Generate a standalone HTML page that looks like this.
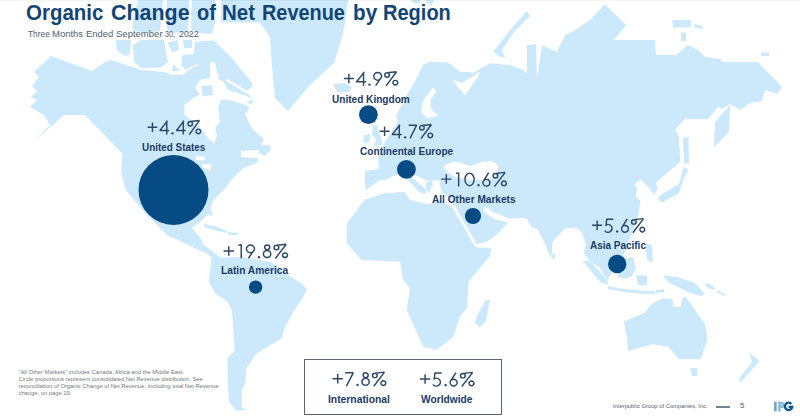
<!DOCTYPE html>
<html><head><meta charset="utf-8">
<style>
html,body{margin:0;padding:0;background:#fff;}
body{width:800px;height:420px;position:relative;overflow:hidden;font-family:"Liberation Sans",sans-serif;}
svg.map{position:absolute;left:0;top:0;}
.t{position:absolute;white-space:nowrap;line-height:1;transform-origin:0 0;}
.title{font-size:21.6px;font-weight:bold;color:#124474;}
.sub{font-size:9.2px;color:#505e6d;}
.pct{font-size:20.8px;color:#33506f;}
.lbl{font-size:10px;font-weight:bold;color:#1c3b63;}
.foot{left:18.5px;top:368.6px;font-size:5.8px;color:#74777c;line-height:7.1px;}
.box{position:absolute;left:304px;top:359px;width:196px;height:54px;border:1.2px solid #5b6570;}
</style></head><body>
<svg class="map" width="800" height="420" viewBox="0 0 800 420">
<g fill="#cce9fb">
<!-- North America mainland -->
<polygon points="34,72 51,56 92,71 105,62 111,60 134,67.5 141,70 167.5,72.5 170,75 182.5,75 193,67 205,63 214,66 222,68 234,76 247,92 253,101 245,115 253,130 264,139 258,150 241,151 241,157 258,158 258,162 243,168.6 232,179 225.7,187.8 212.8,200.7 210.7,209 213.3,216.7 208,214 200,222 192,228 200,237.6 203.8,245 209.5,249 219,256.7 226.7,260.5 219,262.4 205.7,252.9 192.4,247 177,239.5 167.6,235.7 146.7,214.8 125.7,190 121,172 122.5,154 85,115 64,115 34,141 50,125 44,115 30,107 37,100 31,97 37,91 32,86 39,77"/>
<!-- Arctic archipelago -->
<polygon points="116,40 131,40 130,54 124,56 117,50"/>
<polygon points="133,45 141,40 164,40 166,52 168,62 161,67.5 141,68 134,62"/>
<polygon points="167.5,42.5 177.5,40 179,50 172.5,52.5"/>
<polygon points="173,64 180,71 172,71"/>
<polygon points="182.5,55 195,54 205,58 205,62 192,66 186,70 181,65"/>
<polygon points="183,40 192,40 192,48 184,48"/>
<polygon points="195,41.7 214,40.5 231,57 252,83 253,86 247,91 241,88 228,78.6 215,71 211,65 199.5,65 190,59.5 194,52"/>
<polygon points="138,0 163,0 160,31 145,33 133,30 133,20"/>
<polygon points="167,0 189,0 188,31 175,33 167,30"/>
<polygon points="192,0 215,0 215,22 212,34 200,33 191,30"/>
<polygon points="221,0 262,0 260,22.6 221,22.6"/>
<!-- Greenland -->
<polygon points="257,0 348,0 346,17 343,34 334,63 309,86 288,111 275,98 272,66 270,37 260,23"/>
<!-- Newfoundland -->
<polygon points="258,145 270,145 270.7,150 265,155.7 259,153"/>
<!-- Iceland -->
<polygon points="333,84 345,83 352,87 349,92 337,92"/>
<!-- South America -->
<polygon points="211,258 242,257 271,262 290,276.4 300.6,282.8 307,289.3 302.8,297.8 298.5,304 294,310.7 285.7,325.7 281.4,338.6 270.7,345 256,354 246.4,368.8 245,384 241.7,390 241.7,407 246.4,410 235.7,410.5 228.6,401 227.4,358 234.5,351 234.3,345 232,310.7 227.8,302 215,293.6 208.6,280.7 210.7,267.9"/>
<!-- Caribbean -->
<polygon points="204,224 215,226 227,231 226,233 214,230 204,227"/>
<polygon points="228,232 238,233 238,235 228,235"/>
<!-- Eurasia -->
<polygon points="396,116 408,93 415.5,80 423,64.5 431,61.7 448,62.6 455.5,68.3 461,72 469,72 473,73 478,70 490,63.3 510,65 523,70 527,73 527,45 536,44 537,80 542,45 557,52 565,35 575,30 590,20 605,4 626,25 614,40 655,40 656,55 676,55 688,45 698,50 705,57 721,59 722,62 758,62 782,87 778,94 765,90 762,101 750,103 740,110 730,104 722,109 718,107 708,119 685,119 675,130 679,137 679.5,150 680.5,161 676,165.5 656,182.5 657.5,188.7 654.4,195 649.8,188.7 640.5,179.4 634.3,184 637.4,188.7 635.8,196.4 640.5,201 639,212 636,224 630,238 625.4,250.7 620,262 607,280 600,268 589.5,261 583.8,253.3 585.7,243.8 582,232.4 576,227.6 564.8,228.6 552.4,242 551.4,259 544.3,242 537,229 531.4,226.4 527,219.3 524.3,218 508.6,218.6 507,224 498.6,233 487,241.4 475.7,244.3 458,212 455,206 450,198 441,192 439,180 432,181 425,180 415,175 395,175 385,180 380,180 366,190 365,185 365,171 379,169 378,158 385,142 398,122"/>
<!-- Italy / Greece -->
<polygon points="404,176 410,176 427,190 425,194 419,192"/>
<polygon points="426,182 432,181 434,190 429,193 426,188"/>
<!-- Africa -->
<polygon points="365,199.5 385,193 405,192 410,200 427,204 441,201 455,208 475.7,247 491.4,248.6 490,255.7 468.6,281.4 467,308 460,316.7 453.3,336.7 436.7,350 423.3,346.7 406.7,310 410,288.3 403.3,280 400,261.7 361.7,260 346.7,243.3 347,223"/>
<!-- Madagascar -->
<polygon points="485.7,300 490,300 485.7,321.4 480,327 474.3,322.9 477,315.7"/>
<!-- UK / Ireland -->
<polygon points="372,125 377,124.5 378,131 381,137 382.5,145 374,146.5 376,140 372,134 373,130"/>
<polygon points="364,135 370,134 369.5,142 363.5,143"/>
<!-- Sri Lanka -->
<polygon points="552.4,253.3 555,253.3 555,259 552.4,259"/>
<!-- Indonesia / Philippines -->
<polygon points="582.6,260.7 590,261 607.4,280 608,285 600,282"/>
<polygon points="608,286 625,289 645,291 645,294 625,292 608,289"/>
<polygon points="646,291 655,291 655,294 646,294"/>
<polygon points="656,290 664,289 664,292 656,293"/>
<polygon points="619,259 633,257 636,268 632,276 625,279 618,277"/>
<polygon points="636,275 647,276 647,285 638,285"/>
<polygon points="645.5,243.6 652,245 653,262.6 647,260"/>
<polygon points="663,275 677,277 695,283 705,294 701,296 690,293 676,286 668,282"/>
<polygon points="705,283 712,285 716,290 707,288"/>
<polygon points="718,290 726,295 724,296 717,292"/>
<!-- Japan / Sakhalin / Kamchatka -->
<polygon points="730,105 729,132 714,147 715,122"/>
<polygon points="683,138 688.5,137 689,163 684,164"/>
<polygon points="683.8,167 688.5,170 683.8,178 679,193.3 662,202.6 657.5,199.5 660.6,195 679,184"/>
<!-- Australia -->
<polygon points="623.75,321.7 645,312.6 652,303.6 663.3,298 672.4,299 673.5,307 680,307 682.6,298 686,296.8 695,310 705,324 707.5,339.8 700.7,359 679,359 668,346.6 652,344.3 628,351 627,337.5"/>
<polygon points="690.5,368 697.3,368 697.3,376 692,376"/>
<polygon points="749,352 759.5,361 740.3,382.8 739,379 752,362"/>
<!-- Russia islands -->
<polygon points="672.5,20 691,20 691,27.5 673,27.5"/>
<polygon points="694,24 702.5,26 702.5,29 695,28"/>
<polygon points="681,32.5 686,32.5 686,41 681,41"/>
<polygon points="761,52.5 769,52.5 769,56 761,56"/>
<!-- Svalbard -->
<polygon points="411,0 421,0 418,4 414,3"/>
<polygon points="425,0 434,0 432,5 428,4"/>
<!-- Novaya Zemlya -->
<polygon points="493.3,51.7 511.7,28 527,11 530,16 514,32 502,50 505,58 500,57"/>
</g>
<g fill="#fff">
<!-- Hudson Bay -->
<polygon points="184.5,105 193,98 200,94.5 212,95 221,100 218,108 220,122 215.5,127 216.7,136 214.3,143.3 208,138.6 203.6,131.4 196.4,124.3 184.5,114.8"/>
<!-- Foxe basin -->
<polygon points="210,62 215,62 218,78 224,82 228,90 247,96 252,100 247,102 230,99 220,100 212,96 201,96 195,88 200,80 210,78"/>
<polyline points="216,74 232,83 248,93" stroke="#fff" stroke-width="2.5" fill="none"/>
<!-- Great Lakes -->
<polygon points="195.7,156 205.4,157 204,160.4 196,160"/>
<polygon points="202,163.6 211.8,165 210,170 203,168"/>
<!-- Baltic -->
<polygon points="432.6,87.4 436.4,91.2 430.7,98.8 430.7,108.3 438,116 427,118 421,112 423,100.7 428.8,93"/>
<!-- White Sea -->
<polygon points="453,80 462,83 480,71.7 478,77 465,95 457,86"/>
<!-- Black Sea -->
<polygon points="443,166 454,161.5 461,163 470,166 482,162 492,161 498,165 497,174 490,180 470,180 455,177 447,172"/>
<polygon points="431,186 440,186 443,196 436,200 430,195"/>
<!-- Persian gulf -->
<polygon points="485.7,206.4 492.9,212 504.3,216.4 508.6,218.6 506,222.5 504.3,221.4 494.3,219.3 482.9,210.7"/>
</g>
<g stroke="#fff" fill="none" stroke-width="2.5">
<polyline points="452,204 476,245.5"/>
<polyline points="476,246 500,240" stroke-width="2"/>
<polyline points="214,97 228,98 242,102 256,108" stroke-width="3"/>
</g>
<g fill="#cce9fb">
<polygon points="201,86 212,85 213,95 203,96"/>
<polygon points="219,73 226,74 226,80.5 219,80"/>
</g>
<g fill="#064b83">
<circle cx="173.5" cy="190" r="35"/>
<circle cx="368.4" cy="114.6" r="9.4"/>
<circle cx="406.4" cy="169.3" r="9.4"/>
<circle cx="473" cy="216" r="8.1"/>
<circle cx="255.6" cy="287.1" r="6.7"/>
<circle cx="617.2" cy="264" r="9.2"/>
</g>
</svg>


<div class="t title" style="left:26.38px;top:1.66px;transform:scaleX(0.948)">Organic</div>
<div class="t title" style="left:110.64px;top:1.66px;transform:scaleX(0.993)">Change</div>
<div class="t title" style="left:196.70px;top:1.66px;transform:scaleX(0.926)">of</div>
<div class="t title" style="left:222.27px;top:1.66px;transform:scaleX(0.947)">Net</div>
<div class="t title" style="left:261.81px;top:1.66px;transform:scaleX(0.921)">Revenue</div>
<div class="t title" style="left:352.75px;top:1.66px;transform:scaleX(0.958)">by</div>
<div class="t title" style="left:382.85px;top:1.66px;transform:scaleX(0.927)">Region</div>
<div class="t sub" style="left:27.93px;top:29.93px;transform:scaleX(0.908)">Three</div>
<div class="t sub" style="left:52.34px;top:29.93px;transform:scaleX(1.032)">Months</div>
<div class="t sub" style="left:85.85px;top:29.93px;transform:scaleX(1.024)">Ended</div>
<div class="t sub" style="left:115.77px;top:29.93px;transform:scaleX(1.036)">September</div>
<div class="t sub" style="left:165.01px;top:29.93px;transform:scaleX(0.785)">30,</div>
<div class="t sub" style="left:178.96px;top:29.93px;transform:scaleX(0.959)">2022</div>







<div class="t lbl" style="left:142.31px;top:143.13px;transform:scaleX(0.990)">United States</div>
<div class="t lbl" style="left:331.65px;top:94.53px;transform:scaleX(1.007)">United Kingdom</div>
<div class="t lbl" style="left:359.60px;top:147.23px;transform:scaleX(1.011)">Continental Europe</div>
<div class="t lbl" style="left:431.70px;top:195.03px;transform:scaleX(1.009)">All Other Markets</div>
<div class="t lbl" style="left:221.38px;top:266.33px;transform:scaleX(1.022)">Latin America</div>
<div class="t lbl" style="left:590.40px;top:241.08px;transform:scaleX(0.996)">Asia Pacific</div>
<div class="t lbl" style="left:328.28px;top:394.58px;transform:scaleX(1.032)">International</div>
<div class="t lbl" style="left:421.00px;top:394.58px;transform:scaleX(1.020)">Worldwide</div>
<svg class="pcts" style="position:absolute;left:0;top:0" width="800" height="420" viewBox="0 0 800 420">
<g transform="translate(147.60,120.45) scale(0.9626,0.9722)"><g fill="none" stroke="#2c4767" stroke-width="1.45" vector-effect="non-scaling-stroke"><path transform="translate(0.00,0)" d="M0,6.9 H10.1 M5.05,2.0 V11.8" vector-effect="non-scaling-stroke"/><path transform="translate(12.30,0)" d="M8.3,0.4 L0.5,10.4 M0,10.4 H10.0 M7.6,0 V14.4" vector-effect="non-scaling-stroke"/><path transform="translate(29.50,0)" d="M8.3,0.4 L0.5,10.4 M0,10.4 H10.0 M7.6,0 V14.4" vector-effect="non-scaling-stroke"/><path transform="translate(41.10,0)" d="M0.90,3.40 a2.30,2.30 0 1 0 4.60,0 a2.30,2.30 0 1 0 -4.60,0 M9.20,11.30 a2.40,2.40 0 1 0 4.80,0 a2.40,2.40 0 1 0 -4.80,0 M2.2,14.6 L12.8,0.0 M3.2,1.1 Q8.6,0.6 12.8,0.0" vector-effect="non-scaling-stroke"/></g><g fill="#2c4767"><g transform="translate(24.70,0)"><circle cx="1.2" cy="13.25" r="1.2"/></g></g></g>
<g transform="translate(343.90,71.70) scale(0.9874,0.9722)"><g fill="none" stroke="#2c4767" stroke-width="1.45" vector-effect="non-scaling-stroke"><path transform="translate(0.00,0)" d="M0,6.9 H10.1 M5.05,2.0 V11.8" vector-effect="non-scaling-stroke"/><path transform="translate(12.30,0)" d="M8.3,0.4 L0.5,10.4 M0,10.4 H10.0 M7.6,0 V14.4" vector-effect="non-scaling-stroke"/><path transform="translate(29.50,0)" d="M0.75,4.75 a3.95,3.95 0 1 0 7.90,0 a3.95,3.95 0 1 0 -7.90,0 M8.55,5.6 L2.7,14.4" vector-effect="non-scaling-stroke"/><path transform="translate(40.50,0)" d="M0.90,3.40 a2.30,2.30 0 1 0 4.60,0 a2.30,2.30 0 1 0 -4.60,0 M9.20,11.30 a2.40,2.40 0 1 0 4.80,0 a2.40,2.40 0 1 0 -4.80,0 M2.2,14.6 L12.8,0.0 M3.2,1.1 Q8.6,0.6 12.8,0.0" vector-effect="non-scaling-stroke"/></g><g fill="#2c4767"><g transform="translate(24.70,0)"><circle cx="1.2" cy="13.25" r="1.2"/></g></g></g>
<g transform="translate(379.60,124.45) scale(0.9872,0.9722)"><g fill="none" stroke="#2c4767" stroke-width="1.45" vector-effect="non-scaling-stroke"><path transform="translate(0.00,0)" d="M0,6.9 H10.1 M5.05,2.0 V11.8" vector-effect="non-scaling-stroke"/><path transform="translate(12.30,0)" d="M8.3,0.4 L0.5,10.4 M0,10.4 H10.0 M7.6,0 V14.4" vector-effect="non-scaling-stroke"/><path transform="translate(29.50,0)" d="M0,0.725 H8.3 M8.0,0.725 L1.3,14.4" vector-effect="non-scaling-stroke"/><path transform="translate(39.70,0)" d="M0.90,3.40 a2.30,2.30 0 1 0 4.60,0 a2.30,2.30 0 1 0 -4.60,0 M9.20,11.30 a2.40,2.40 0 1 0 4.80,0 a2.40,2.40 0 1 0 -4.80,0 M2.2,14.6 L12.8,0.0 M3.2,1.1 Q8.6,0.6 12.8,0.0" vector-effect="non-scaling-stroke"/></g><g fill="#2c4767"><g transform="translate(24.70,0)"><circle cx="1.2" cy="13.25" r="1.2"/></g></g></g>
<g transform="translate(441.20,172.40) scale(1.0138,0.9722)"><g fill="none" stroke="#2c4767" stroke-width="1.45" vector-effect="non-scaling-stroke"><path transform="translate(0.00,0)" d="M0,6.9 H10.1 M5.05,2.0 V11.8" vector-effect="non-scaling-stroke"/><path transform="translate(14.50,0)" d="M0,1.0 L2.7,0.5 M2.7,0 V14.4" vector-effect="non-scaling-stroke"/><path transform="translate(22.70,0)" d="M0.75,7.20 a4.50,6.45 0 1 0 9.00,0 a4.50,6.45 0 1 0 -9.00,0" vector-effect="non-scaling-stroke"/><path transform="translate(40.40,0)" d="M0.75,10.55 a3.40,3.40 0 1 0 6.80,0 a3.40,3.40 0 1 0 -6.80,0 M1.0,9.4 L6.4,0.2" vector-effect="non-scaling-stroke"/><path transform="translate(50.30,0)" d="M0.90,3.40 a2.30,2.30 0 1 0 4.60,0 a2.30,2.30 0 1 0 -4.60,0 M9.20,11.30 a2.40,2.40 0 1 0 4.80,0 a2.40,2.40 0 1 0 -4.80,0 M2.2,14.6 L12.8,0.0 M3.2,1.1 Q8.6,0.6 12.8,0.0" vector-effect="non-scaling-stroke"/></g><g fill="#2c4767"><g transform="translate(35.60,0)"><circle cx="1.2" cy="13.25" r="1.2"/></g></g></g>
<g transform="translate(223.60,244.25) scale(1.0253,0.9722)"><g fill="none" stroke="#2c4767" stroke-width="1.45" vector-effect="non-scaling-stroke"><path transform="translate(0.00,0)" d="M0,6.9 H10.1 M5.05,2.0 V11.8" vector-effect="non-scaling-stroke"/><path transform="translate(14.50,0)" d="M0,1.0 L2.7,0.5 M2.7,0 V14.4" vector-effect="non-scaling-stroke"/><path transform="translate(21.50,0)" d="M0.75,4.75 a3.95,3.95 0 1 0 7.90,0 a3.95,3.95 0 1 0 -7.90,0 M8.55,5.6 L2.7,14.4" vector-effect="non-scaling-stroke"/><path transform="translate(38.10,0)" d="M1.90,3.20 a2.50,2.50 0 1 0 5.00,0 a2.50,2.50 0 1 0 -5.00,0 M0.70,10.05 a3.60,3.60 0 1 0 7.20,0 a3.60,3.60 0 1 0 -7.20,0" vector-effect="non-scaling-stroke"/><path transform="translate(48.30,0)" d="M0.90,3.40 a2.30,2.30 0 1 0 4.60,0 a2.30,2.30 0 1 0 -4.60,0 M9.20,11.30 a2.40,2.40 0 1 0 4.80,0 a2.40,2.40 0 1 0 -4.80,0 M2.2,14.6 L12.8,0.0 M3.2,1.1 Q8.6,0.6 12.8,0.0" vector-effect="non-scaling-stroke"/></g><g fill="#2c4767"><g transform="translate(33.30,0)"><circle cx="1.2" cy="13.25" r="1.2"/></g></g></g>
<g transform="translate(592.10,218.60) scale(1.0028,0.9722)"><g fill="none" stroke="#2c4767" stroke-width="1.45" vector-effect="non-scaling-stroke"><path transform="translate(0.00,0)" d="M0,6.9 H10.1 M5.05,2.0 V11.8" vector-effect="non-scaling-stroke"/><path transform="translate(12.30,0)" d="M8.8,0.725 H2.4 M2.4,0.0 L1.6,6.6 A4.0,4.0 0 1 1 0.3,12.3" vector-effect="non-scaling-stroke"/><path transform="translate(28.60,0)" d="M0.75,10.55 a3.40,3.40 0 1 0 6.80,0 a3.40,3.40 0 1 0 -6.80,0 M1.0,9.4 L6.4,0.2" vector-effect="non-scaling-stroke"/><path transform="translate(38.50,0)" d="M0.90,3.40 a2.30,2.30 0 1 0 4.60,0 a2.30,2.30 0 1 0 -4.60,0 M9.20,11.30 a2.40,2.40 0 1 0 4.80,0 a2.40,2.40 0 1 0 -4.80,0 M2.2,14.6 L12.8,0.0 M3.2,1.1 Q8.6,0.6 12.8,0.0" vector-effect="non-scaling-stroke"/></g><g fill="#2c4767"><g transform="translate(23.80,0)"><circle cx="1.2" cy="13.25" r="1.2"/></g></g></g>
<g transform="translate(332.60,372.10) scale(1.0169,0.9722)"><g fill="none" stroke="#2c4767" stroke-width="1.45" vector-effect="non-scaling-stroke"><path transform="translate(0.00,0)" d="M0,6.9 H10.1 M5.05,2.0 V11.8" vector-effect="non-scaling-stroke"/><path transform="translate(12.30,0)" d="M0,0.725 H8.3 M8.0,0.725 L1.3,14.4" vector-effect="non-scaling-stroke"/><path transform="translate(28.10,0)" d="M1.90,3.20 a2.50,2.50 0 1 0 5.00,0 a2.50,2.50 0 1 0 -5.00,0 M0.70,10.05 a3.60,3.60 0 1 0 7.20,0 a3.60,3.60 0 1 0 -7.20,0" vector-effect="non-scaling-stroke"/><path transform="translate(38.30,0)" d="M0.90,3.40 a2.30,2.30 0 1 0 4.60,0 a2.30,2.30 0 1 0 -4.60,0 M9.20,11.30 a2.40,2.40 0 1 0 4.80,0 a2.40,2.40 0 1 0 -4.80,0 M2.2,14.6 L12.8,0.0 M3.2,1.1 Q8.6,0.6 12.8,0.0" vector-effect="non-scaling-stroke"/></g><g fill="#2c4767"><g transform="translate(23.30,0)"><circle cx="1.2" cy="13.25" r="1.2"/></g></g></g>
<g transform="translate(419.90,372.35) scale(1.0299,0.9722)"><g fill="none" stroke="#2c4767" stroke-width="1.45" vector-effect="non-scaling-stroke"><path transform="translate(0.00,0)" d="M0,6.9 H10.1 M5.05,2.0 V11.8" vector-effect="non-scaling-stroke"/><path transform="translate(12.30,0)" d="M8.8,0.725 H2.4 M2.4,0.0 L1.6,6.6 A4.0,4.0 0 1 1 0.3,12.3" vector-effect="non-scaling-stroke"/><path transform="translate(28.60,0)" d="M0.75,10.55 a3.40,3.40 0 1 0 6.80,0 a3.40,3.40 0 1 0 -6.80,0 M1.0,9.4 L6.4,0.2" vector-effect="non-scaling-stroke"/><path transform="translate(38.50,0)" d="M0.90,3.40 a2.30,2.30 0 1 0 4.60,0 a2.30,2.30 0 1 0 -4.60,0 M9.20,11.30 a2.40,2.40 0 1 0 4.80,0 a2.40,2.40 0 1 0 -4.80,0 M2.2,14.6 L12.8,0.0 M3.2,1.1 Q8.6,0.6 12.8,0.0" vector-effect="non-scaling-stroke"/></g><g fill="#2c4767"><g transform="translate(23.80,0)"><circle cx="1.2" cy="13.25" r="1.2"/></g></g></g>
</svg>
<div class="t foot">“All Other Markets” includes Canada, Africa and the Middle East.<br>Circle proportions represent consolidated Net Revenue distribution. See<br>reconciliation of Organic Change of Net Revenue, including total Net Revenue<br>change, on page 19.</div>

<div class="box"></div>

<div class="t" style="left:613.38px;top:403.31px;font-size:6.0px;transform:scaleX(0.969);color:#58606a;">Interpublic Group of Companies, Inc.</div>
<div style="position:absolute;left:716px;top:406px;width:14px;height:1.5px;background:#6b8791;"></div>
<div class="t" style="left:740.18px;top:402.96px;font-size:6.8px;transform:scaleX(1.173);color:#555a60;">5</div>
<svg style="position:absolute;left:770px;top:398px" width="30" height="18" viewBox="770 398 30 18">
<rect x="774" y="401.7" width="2.7" height="9.7" fill="#78a9c6"/>
<rect x="778.1" y="401.7" width="2.5" height="9.7" fill="#8dbad6"/>
<path d="M779.3,403 h2.2 a1.9,1.9 0 0 1 0,3.8 h-2.2" stroke="#8dbad6" stroke-width="2.5" fill="none"/>
<path d="M791.4,403.9 A3.7,3.7 0 1 0 792.3,406.9 H788.6" stroke="#0d5390" stroke-width="2.3" fill="none"/>
</svg>
<div style="position:absolute;left:0;top:0;width:800px;height:1px;background:rgba(0,0,0,0.045)"></div>
</body></html>
